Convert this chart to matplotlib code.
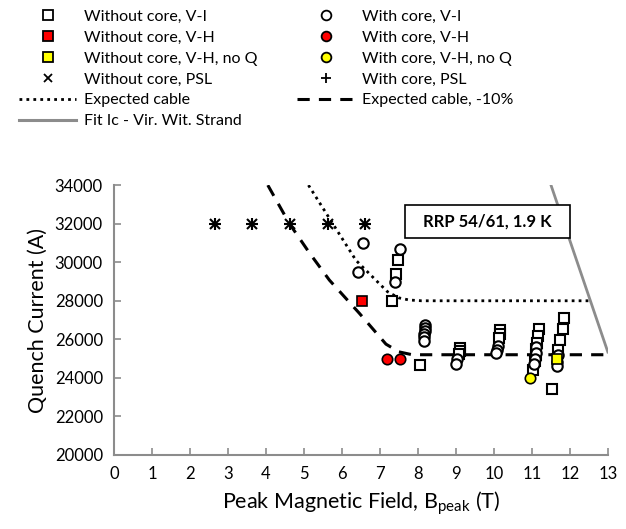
import matplotlib
matplotlib.use("Agg")
import matplotlib.pyplot as plt
from matplotlib.lines import Line2D
from matplotlib.patches import Rectangle

plt.rcParams['font.family'] = ['Lato', 'DejaVu Sans']

# ---- data ----
wo_vi_x = [7.48, 7.42, 7.31, 8.05, 9.10, 9.10, 9.08, 10.16, 10.16, 10.14,
           11.19, 11.17, 11.14, 11.12, 11.10, 11.08, 11.03,
           11.84, 11.81, 11.74, 11.70, 11.54]
wo_vi_y = [30100, 29400, 28000, 24650, 25550, 25400, 25250, 26500, 26300, 26050,
           26550, 26150, 25800, 25500, 25200, 24900, 24400,
           27100, 26550, 25950, 25450, 23400]

w_vi_x = [6.56, 6.43, 7.53, 7.39, 8.20, 8.19, 8.18, 8.17, 8.16, 8.15,
          9.02, 9.00, 10.10, 10.08, 10.06,
          11.12, 11.10, 11.08, 11.06, 11.68, 11.66, 11.65]
w_vi_y = [31000, 29500, 30700, 29000, 26750, 26600, 26450, 26300, 26100, 25900,
          25000, 24700, 25650, 25450, 25300,
          25600, 25300, 25000, 24700, 25200, 24800, 24600]

wo_vh_x = [6.52]
wo_vh_y = [28000]
w_vh_x = [7.20, 7.52]
w_vh_y = [25000, 25000]
wo_vhnq_x = [11.67]
wo_vhnq_y = [25000]
w_vhnq_x = [10.96]
w_vhnq_y = [24000]
psl_x = [2.65, 3.64, 4.64, 5.63, 6.62]
psl_y = [32000, 32000, 32000, 32000, 32000]

exp_x = [5.12, 5.76, 6.37, 6.98, 7.20, 7.50, 7.77, 8.10, 12.50]
exp_y = [34000, 32000, 30100, 28900, 28470, 28150, 28040, 28000, 28000]
exp10_x = [4.05, 4.62, 5.14, 5.67, 6.46, 7.16, 7.50, 7.85, 13.00]
exp10_y = [34000, 32000, 30500, 29075, 27350, 25750, 25350, 25200, 25200]
fit_x = [11.40, 13.00]
fit_y = [34600, 25340]

xticks = list(range(0, 14))
yticks = list(range(20000, 34001, 2000))

fig = plt.figure(figsize=(6.26, 5.29), dpi=100)
ax = fig.add_axes([0.182, 0.140, 0.789, 0.510])

ms = 7.5
ax.plot(exp_x, exp_y, color='black', linestyle=(0, (1, 1.5)), linewidth=2.0, zorder=2)
ax.plot(exp10_x, exp10_y, color='black', linestyle=(0, (4, 3)), linewidth=2.2, zorder=2)
ax.plot(fit_x, fit_y, color='#8c8c8c', linewidth=2.0, zorder=2)

ax.plot(wo_vi_x, wo_vi_y, 's', ms=ms, mfc='white', mec='black', mew=1.5, zorder=3)
ax.plot(w_vi_x, w_vi_y, 'o', ms=ms, mfc='white', mec='black', mew=1.5, zorder=3)
ax.plot(wo_vh_x, wo_vh_y, 's', ms=ms, mfc='red', mec='black', mew=1.2, zorder=4)
ax.plot(w_vh_x, w_vh_y, 'o', ms=ms, mfc='red', mec='black', mew=1.2, zorder=4)
ax.plot(wo_vhnq_x, wo_vhnq_y, 's', ms=ms, mfc='yellow', mec='black', mew=1.2, zorder=4)
ax.plot(w_vhnq_x, w_vhnq_y, 'o', ms=ms, mfc='yellow', mec='black', mew=1.2, zorder=4)
ax.plot(psl_x, psl_y, 'x', ms=7.5, mec='black', mew=1.5, zorder=4)
ax.plot(psl_x, psl_y, '+', ms=9, mec='black', mew=1.5, zorder=4)

ax.set_xlim(0, 13)
ax.set_ylim(20000, 34000)
ax.set_xticks(xticks)
ax.set_yticks(yticks)
for s in ['top', 'right']:
    ax.spines[s].set_visible(False)
for s in ['left', 'bottom']:
    ax.spines[s].set_color('#8c8c8c')
    ax.spines[s].set_linewidth(1.5)
ax.tick_params(direction='in', length=5, width=1.2, color='#8c8c8c', labelsize=12, pad=8)
ax.set_xlabel('Peak Magnetic Field, B$_{\\mathregular{peak}}$ (T)', fontsize=15.5, labelpad=5)
ax.set_ylabel('Quench Current (A)', fontsize=15.5, labelpad=5)

# annotation box
box = Rectangle((0.647, 0.550), 0.2636, 0.0624, transform=fig.transFigure,
                fc='white', ec='black', lw=1.2, zorder=10, clip_on=False)
ax.add_patch(box)
ax.text(0.779, 0.581, 'RRP 54/61, 1.9 K', transform=fig.transFigure, fontsize=12,
        fontweight='bold', ha='center', va='center', zorder=11)

def mk(marker, fc, msz=7):
    return Line2D([], [], linestyle='none', marker=marker, ms=msz, mfc=fc, mec='black', mew=1.3)

handles = [
    mk('s', 'white'), mk('s', 'red'), mk('s', 'yellow'),
    Line2D([], [], linestyle='none', marker='x', ms=6, mec='black', mew=1.3),
    Line2D([], [], color='black', linestyle=(0, (1, 1.5)), lw=2),
    Line2D([], [], color='#8c8c8c', lw=2.2),
    mk('o', 'white'), mk('o', 'red'), mk('o', 'yellow'),
    Line2D([], [], linestyle='none', marker='+', ms=7, mec='black', mew=1.3),
    Line2D([], [], color='black', linestyle=(0, (4, 3)), lw=2.2),
]
labels = ['Without core, V-I', 'Without core, V-H', 'Without core, V-H, no Q',
          'Without core, PSL', 'Expected cable', 'Fit Ic - Vir. Wit. Strand',
          'With core, V-I', 'With core, V-H', 'With core, V-H, no Q',
          'With core, PSL', 'Expected cable, -10%']
fig.legend(handles, labels, ncol=2, loc='upper left', bbox_to_anchor=(0.015, 1.0),
           frameon=False, fontsize=11.5, handlelength=3.6, handletextpad=0.45,
           columnspacing=2.5, labelspacing=0.42, borderaxespad=0.2)

fig.savefig('out.png', dpi=100)
